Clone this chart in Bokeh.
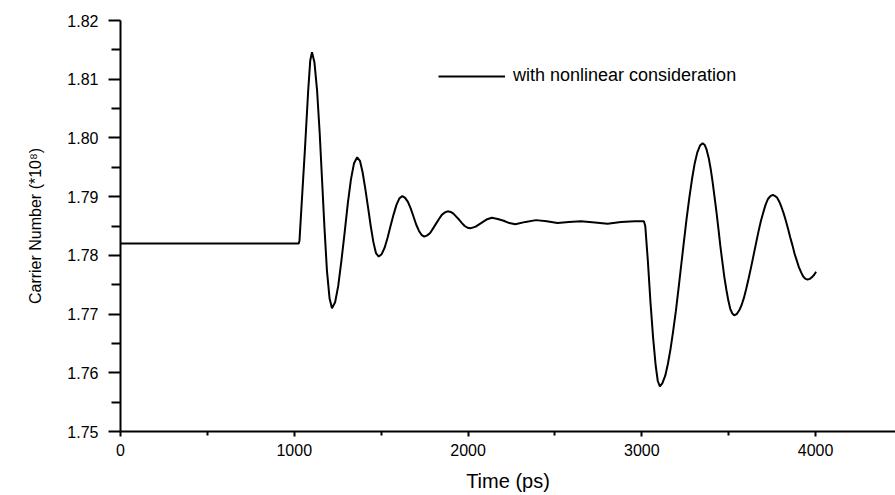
from bokeh.plotting import figure
from bokeh.models import Range1d, FixedTicker, Legend, LegendItem
from bokeh.embed import file_html
from bokeh.resources import INLINE

time_ps = [0, 1025, 1030, 1045, 1062, 1080, 1092, 1102,
           1116, 1131, 1146, 1160, 1174, 1188, 1203, 1217,
           1235, 1253, 1271, 1290, 1308, 1326, 1344, 1362,
           1378, 1393, 1408, 1424, 1440, 1455, 1470, 1486,
           1503, 1520, 1537, 1554, 1571, 1588, 1605, 1622,
           1638, 1654, 1670, 1685, 1701, 1717, 1732, 1748,
           1765, 1782, 1799, 1816, 1833, 1849, 1866, 1883,
           1900, 1916, 1932, 1948, 1965, 1981, 1997, 2013,
           2044, 2075, 2106, 2137, 2171, 2205, 2238, 2272,
           2331, 2391, 2453, 2515, 2580, 2650, 2730, 2803, 2880, 2960, 3012,
           3020, 3035, 3050, 3065, 3080, 3092, 3104, 3118, 3135, 3150, 3165, 3180,
           3196, 3212, 3227, 3243, 3258, 3274, 3289, 3304, 3319, 3335, 3350,
           3362, 3373, 3385, 3396, 3407, 3418, 3430, 3441, 3452, 3464, 3475, 3487,
           3498, 3509, 3521, 3532,
           3546, 3560, 3574, 3588, 3601, 3615, 3629, 3643, 3657, 3671, 3685, 3699,
           3712, 3726, 3740, 3754,
           3767, 3779, 3792, 3804, 3817, 3829, 3842, 3854, 3867, 3879, 3892, 3904,
           3917, 3929, 3942, 3954,
           3967, 3980, 3992, 4003]

carrier_1e8 = [1.7820, 1.7820, 1.7825, 1.7900, 1.7984, 1.8080, 1.8132, 1.8146,
               1.8129, 1.8082, 1.8010, 1.7928, 1.7846, 1.7774, 1.7727, 1.7710,
               1.7720, 1.7748, 1.7790, 1.7839, 1.7888, 1.7929, 1.7957, 1.7967,
               1.7961, 1.7942, 1.7915, 1.7883, 1.7850, 1.7823, 1.7804, 1.7798,
               1.7802, 1.7813, 1.7830, 1.7850, 1.7869, 1.7886, 1.7897, 1.7901,
               1.7898, 1.7891, 1.7880, 1.7867, 1.7853, 1.7842, 1.7835, 1.7832,
               1.7834, 1.7838, 1.7846, 1.7854, 1.7862, 1.7869, 1.7873, 1.7875,
               1.7874, 1.7871, 1.7866, 1.7861, 1.7855, 1.7850, 1.7847, 1.7846,
               1.7849, 1.7855, 1.7861, 1.7864, 1.7862, 1.7859, 1.7855, 1.7853,
               1.7857, 1.7860, 1.7858, 1.7855, 1.7857, 1.7858, 1.7856, 1.7854, 1.7857, 1.7858, 1.7858,
               1.7850, 1.7790, 1.7720, 1.7660, 1.7612, 1.7586, 1.7577, 1.7582, 1.7595, 1.7615, 1.7640, 1.7670,
               1.7705, 1.7745, 1.7784, 1.7825, 1.7863, 1.7899, 1.7930, 1.7956, 1.7975, 1.7987, 1.7991,
               1.7988, 1.7980, 1.7966, 1.7948, 1.7926, 1.7901, 1.7873, 1.7845, 1.7816, 1.7788, 1.7763, 1.7741,
               1.7723, 1.7709, 1.7701, 1.7698,
               1.7700, 1.7706, 1.7715, 1.7728, 1.7743, 1.7761, 1.7780, 1.7800, 1.7820, 1.7840, 1.7858, 1.7873,
               1.7886, 1.7896, 1.7901, 1.7903,
               1.7901, 1.7898, 1.7891, 1.7882, 1.7871, 1.7859, 1.7845, 1.7831, 1.7817, 1.7803, 1.7791, 1.7780,
               1.7771, 1.7764, 1.7760, 1.7759,
               1.7760, 1.7763, 1.7767, 1.7772]

x_ticks = [0, 1000, 2000, 3000, 4000]
y_ticks = [1.75, 1.76, 1.77, 1.78, 1.79, 1.80, 1.81, 1.82]
y_tick_labels = ["1.75", "1.76", "1.77", "1.78", "1.79", "1.80", "1.81", "1.82"]
series_label = "with nonlinear consideration"
x_title = "Time (ps)"
y_title = "Carrier Number (*10\u2078)"

FONT = "Liberation Sans"

p = figure(width=895, height=495, output_backend="svg", toolbar_location=None,
           x_range=Range1d(0, 4460), y_range=Range1d(1.75, 1.82),
           min_border_left=120, min_border_right=0, min_border_top=20, min_border_bottom=64)
p.outline_line_color = None
p.grid.grid_line_color = None
p.background_fill_color = "white"
p.border_fill_color = "white"

r = p.line(time_ps, carrier_1e8, line_color="black", line_width=2)

# x axis
xa = p.xaxis[0]
xa.ticker = FixedTicker(ticks=x_ticks, minor_ticks=[500, 1500, 2500, 3500, 4500])
xa.axis_line_width = 2
xa.axis_line_color = "black"
xa.major_tick_line_width = 2
xa.minor_tick_line_width = 2
xa.major_tick_in = 0
xa.major_tick_out = 5
xa.minor_tick_in = 0
xa.minor_tick_out = 4
xa.major_label_text_font = FONT
xa.major_label_text_font_size = "16px"
xa.major_label_text_color = "black"
xa.major_label_standoff = 7
xa.axis_label = x_title
xa.axis_label_text_font = FONT
xa.axis_label_text_font_size = "20px"
xa.axis_label_text_font_style = "normal"
xa.axis_label_text_color = "black"
xa.axis_label_standoff = 11

# y axis
ya = p.yaxis[0]
ya.ticker = FixedTicker(ticks=y_ticks, minor_ticks=[1.755, 1.765, 1.775, 1.785, 1.795, 1.805, 1.815])
ya.major_label_overrides = {t: l for t, l in zip(y_ticks, y_tick_labels)}
ya.axis_line_width = 2
ya.axis_line_color = "black"
ya.major_tick_line_width = 2
ya.minor_tick_line_width = 2
ya.major_tick_in = 0
ya.major_tick_out = 12
ya.minor_tick_in = 0
ya.minor_tick_out = 9
ya.major_label_text_font = FONT
ya.major_label_text_font_size = "16px"
ya.major_label_text_color = "black"
ya.major_label_standoff = 10
ya.axis_label = y_title
ya.axis_label_text_font = FONT
ya.axis_label_text_font_size = "16px"
ya.axis_label_text_font_style = "normal"
ya.axis_label_text_color = "black"
ya.axis_label_standoff = 20

legend = Legend(items=[LegendItem(label=series_label, renderers=[r])],
                location=(318, 345), border_line_color=None, background_fill_alpha=0,
                padding=0, margin=0, glyph_width=67, glyph_height=20, label_height=20,
                label_standoff=8, label_text_font=FONT, label_text_font_size="18px",
                label_text_color="black")
p.add_layout(legend)

open("out.html", "w").write(file_html(p, INLINE))
